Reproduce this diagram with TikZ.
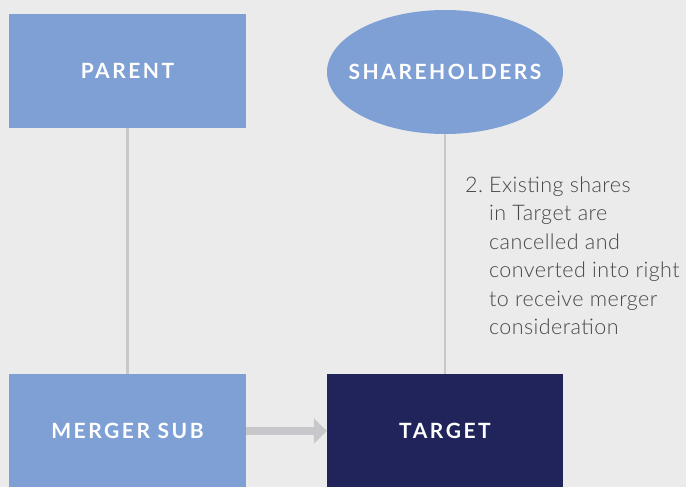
\documentclass[tikz,border=0pt]{standalone}
\usepackage{fontspec}
\setmainfont{Lato}
\newfontfamily\lblfont{Lato}[LetterSpace=12]
\newfontfamily\notefont{Lato Light}[LetterSpace=2]
\usetikzlibrary{arrows.meta,shapes.geometric}
\definecolor{bgray}{HTML}{EBEBEB}
\definecolor{boxblue}{HTML}{7FA0D4}
\definecolor{navy}{HTML}{21245A}
\definecolor{linegray}{HTML}{C8C8CC}

\begin{document}
\begin{tikzpicture}[x=1pt,y=-1pt,
    entity/.style={fill=boxblue,minimum width=237pt,minimum height=114pt,
        inner sep=0pt,text=white,font=\lblfont\fontsize{21}{24}\selectfont\bfseries},
    link/.style={linegray,line width=2.5pt}]
        \useasboundingbox (0,0) rectangle (686,487);
        \fill[bgray] (0,0) rectangle (686,487);
        \node[entity] (parent) at (127.5,71) {PARENT};
        \node[entity,ellipse,minimum width=236pt,minimum height=124pt] (holders) at (445,72) {\makebox[0pt]{SHAREHOLDERS}};
        \node[entity] (msub) at (127.5,431) {MERGER SUB};
        \node[entity,fill=navy,minimum width=236pt] (target) at (445,431) {TARGET};
        \draw[link] (parent) -- (msub);
        \draw[link] (holders) -- (target);
        \draw[linegray,line width=8pt,-{Triangle[length=13pt,width=25pt]}] (msub) -- (target);
        \node[anchor=north west,inner sep=0pt,text=black!72,font=\notefont\fontsize{21.5}{28.5}\selectfont]
            (note) at (465,172) {\begin{tabular}{@{}l@{\hspace{6pt}}l@{}}2.&Existing shares\\ &in Target are\\ &cancelled and\\
            &converted into right\\ &to receive merger\\ &consideration\end{tabular}};
    \end{tikzpicture}
\end{document}
